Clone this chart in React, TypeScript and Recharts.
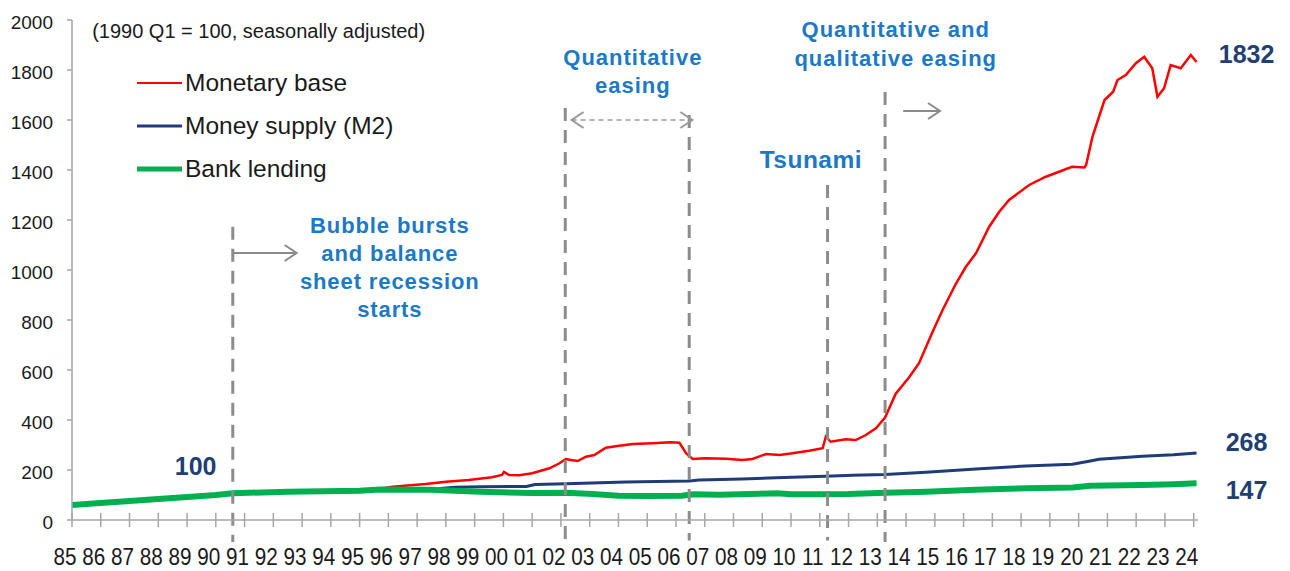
import React from 'react';
import { LineChart, Line, XAxis, YAxis, ReferenceLine, ReferenceDot, Legend } from 'recharts';

const FONT = '"Liberation Sans", Arial, Helvetica, sans-serif';
const NOTE_BLUE = '#1b79c6';
const NAVY = '#213f72';
const GUIDE_GREY = '#8c8c8c';
const AXIS_GREY = '#a6a6a6';

// Axis ticks
const yearLabels = [
  '85', '86', '87', '88', '89', '90', '91', '92', '93', '94',
  '95', '96', '97', '98', '99', '00', '01', '02', '03', '04',
  '05', '06', '07', '08', '09', '10', '11', '12', '13', '14',
  '15', '16', '17', '18', '19', '20', '21', '22', '23', '24',
];
const yearTicks = yearLabels.map((_, i) => 1985 + i);
const valueTicks = [0, 200, 400, 600, 800, 1000, 1200, 1400, 1600, 1800, 2000];

// Monetary base (1990 Q1 = 100)
const baseYears = [
  1985, 1986, 1987, 1988, 1989, 1990, 1990.6, 1992.5, 1995, 1995.7,
  1996.15, 1997.3, 1998.0, 1998.8, 1999.6, 1999.95, 2000.02, 2000.2, 2000.55, 2001.0,
  2001.6, 2001.95, 2002.17, 2002.35, 2002.58, 2002.87, 2003.16, 2003.56, 2004.03, 2004.5,
  2005.2, 2005.8, 2006.12, 2006.35, 2006.58, 2007.0, 2007.75, 2008.3, 2008.66, 2009.13,
  2009.6, 2010.05, 2010.63, 2011.1, 2011.21, 2011.38, 2011.9, 2012.25, 2012.6, 2012.95,
  2013.27, 2013.64, 2014.1, 2014.45, 2014.9, 2015.27, 2015.74, 2016.08, 2016.43, 2016.89,
  2017.24, 2017.58, 2018.28, 2018.86, 2019.32, 2019.77, 2020.2, 2020.26, 2020.48, 2020.9,
  2021.2, 2021.35, 2021.64, 2021.99, 2022.28, 2022.56, 2022.74, 2022.97, 2023.2, 2023.55,
  2023.9, 2024.1,
];
const baseValues = [
  60, 67, 74, 81, 89, 99, 106, 112, 117, 125,
  133, 144, 153, 160, 171, 180, 192, 180, 179, 187,
  207, 227, 244, 240, 236, 253, 260, 289, 297, 304,
  307, 311, 309, 267, 244, 247, 245, 240, 244, 264,
  260, 267, 277, 287, 333, 313, 323, 320, 340, 367,
  410, 505, 570, 627, 747, 840, 947, 1013, 1067, 1173,
  1233, 1280, 1340, 1373, 1393, 1413, 1410, 1420, 1533, 1680,
  1713, 1760, 1780, 1827, 1853, 1807, 1693, 1727, 1820, 1807,
  1860, 1832,
];

// Money supply (M2)
const m2Years = [
  1985, 1990, 1990.6, 1992.5, 1995, 1995.7, 1997.5, 1997.8, 1998.3, 1999.2,
  2000.8, 2001.1, 2002.17, 2004.26, 2006.46, 2006.8, 2008.3, 2009.47, 2011.2, 2012.14,
  2013.27, 2014.69, 2016.43, 2018.16, 2019.78, 2020.36, 2020.71, 2022.21, 2023.3, 2024.1,
];
const m2Values = [
  60, 100, 106, 112, 116, 120, 121, 126, 131, 133,
  134, 142, 145, 152, 156, 160, 164, 169, 175, 179,
  182, 191, 204, 216, 223, 235, 243, 255, 261, 268,
];

// Bank lending
const lendingYears = [
  1985, 1990, 1990.6, 1992.5, 1995, 1995.7, 1997.5, 1998.1, 1999.2, 2001.0,
  2002.17, 2003.1, 2004.0, 2005.0, 2006.2, 2006.6, 2007.5, 2008.9, 2009.5, 2010.0,
  2011.0, 2012.0, 2013.3, 2014.7, 2016.4, 2018.2, 2019.8, 2020.4, 2022.2, 2023.3,
  2024.1,
];
const lendingValues = [
  60, 100, 107, 113, 117, 122, 121, 118, 113, 108,
  109, 104, 97, 96, 97, 103, 101, 105, 107, 103,
  103, 104, 109, 113, 121, 127, 130, 137, 140, 143,
  147,
];

const toPoints = (ts: number[], vs: number[]) => ts.map((t, i) => ({ t, v: vs[i] }));
const basePoints = toPoints(baseYears, baseValues);
const m2Points = toPoints(m2Years, m2Values);
const lendingPoints = toPoints(lendingYears, lendingValues);

const series = [
  { name: 'Monetary base', color: '#ff0000', width: 2.5, legendWidth: 2 },
  { name: 'Money supply (M2)', color: '#1f3c78', width: 3, legendWidth: 3 },
  { name: 'Bank lending', color: '#00b050', width: 6, legendWidth: 5 },
];

const XTick = (props: any) => {
  const { x, y, payload } = props;
  const label = yearLabels[yearTicks.indexOf(payload.value)];
  return (
    <g>
      <line x1={x} x2={x} y1={y - 7} y2={y + 7} stroke={AXIS_GREY} strokeWidth={1.5} />
      <text
        transform={`translate(${x - 7},${y + 45}) scale(0.9,1)`}
        textAnchor="middle"
        fontFamily={FONT}
        fontSize={23}
        fill="#1a1a1a"
      >
        {label}
      </text>
    </g>
  );
};

const YTick = (props: any) => {
  const { x, y, payload } = props;
  return (
    <text x={x - 14} y={y + 8.5} textAnchor="end" fontFamily={FONT} fontSize={19} fill="#1a1a1a">
      {payload.value}
    </text>
  );
};

const LegendBox = () => (
  <div style={{ fontFamily: FONT, fontSize: 24.5, color: '#1a1a1a' }}>
    {series.map((s) => (
      <div key={s.name} style={{ display: 'flex', alignItems: 'center', height: 43 }}>
        <svg width={50} height={10} style={{ display: 'block' }}>
          <line x1={2} x2={47} y1={5} y2={5} stroke={s.color} strokeWidth={s.legendWidth} />
        </svg>
        <span style={{ whiteSpace: 'nowrap' }}>{s.name}</span>
      </div>
    ))}
  </div>
);

// Multi-line note text anchored at a data position (first baseline)
const noteShape = (lines: string[], opts: { size?: number; color?: string; bold?: boolean; anchor?: string; spacing?: number; lineGap?: number }) =>
  (p: any) => (
    <text
      x={p.cx}
      y={p.cy}
      textAnchor={opts.anchor ?? 'middle'}
      fontFamily={FONT}
      fontSize={opts.size ?? 22}
      fontWeight={opts.bold === false ? 'normal' : 'bold'}
      fill={opts.color ?? NOTE_BLUE}
      letterSpacing={opts.spacing ?? 0}
    >
      {lines.map((l, i) => (
        <tspan key={i} x={p.cx} dy={i === 0 ? 0 : opts.lineGap ?? 28}>
          {l}
        </tspan>
      ))}
    </text>
  );

const arrowShape = (both: boolean, dashed: boolean) => (p: any) => {
  const { x1, y1, x2, y2 } = p;
  const head = (tx: number, ty: number, dir: number) =>
    `M${tx - dir * 12},${ty - 8} L${tx},${ty} L${tx - dir * 12},${ty + 8}`;
  const stroke = dashed ? '#9a9a9a' : '#8a8a8a';
  return (
    <g>
      <line
        x1={x1}
        y1={y1}
        x2={x2}
        y2={y2}
        stroke={stroke}
        strokeWidth={dashed ? 1.6 : 2}
        strokeDasharray={dashed ? '5 4' : undefined}
      />
      <path d={head(x2, y2, 1)} fill="none" stroke={stroke} strokeWidth={2} />
      {both && <path d={head(x1, y1, -1)} fill="none" stroke={stroke} strokeWidth={2} />}
    </g>
  );
};

const endShape = (value: number, dx: number, dy: number) => (p: any) => (
  <text x={p.cx + dx} y={p.cy + dy} textAnchor="middle" fontFamily={FONT} fontSize={25} fontWeight="bold" fill={NAVY}>
    {value}
  </text>
);

// Event dividers: [year, top value, bottom value]
const dividers: [number, number, number][] = [
  [1990.59, 1173, -88],
  [2002.15, 1648, -82],
  [2006.46, 1620, -82],
  [2011.27, 1340, -82],
  [2013.27, 1712, -88],
];

const last = (a: number[]) => a[a.length - 1];

export default function App() {
  return (
    <div style={{ position: 'absolute', left: 0, top: 0, background: '#fff' }}>
      <LineChart width={1290} height={571} margin={{ top: 20, right: 92, bottom: 0, left: 0 }}>
        <XAxis
          dataKey="t"
          type="number"
          domain={[1985, 2024.15]}
          ticks={yearTicks}
          interval={0}
          tick={<XTick />}
          tickLine={false}
          tickSize={0}
          tickMargin={0}
          height={51}
          axisLine={{ stroke: AXIS_GREY, strokeWidth: 1.5 }}
          allowDataOverflow
        />
        <YAxis
          type="number"
          domain={[0, 2000]}
          ticks={valueTicks}
          interval={0}
          width={72}
          tick={<YTick />}
          tickSize={5}
          tickMargin={0}
          tickLine={{ stroke: AXIS_GREY, strokeWidth: 1.5 }}
          axisLine={{ stroke: AXIS_GREY, strokeWidth: 1.5 }}
          allowDataOverflow
        />
        <Legend
          layout="vertical"
          align="center"
          verticalAlign="middle"
          wrapperStyle={{ left: 135, top: 61, width: 280 }}
          content={() => <LegendBox />}
        />
        <Line
          data={basePoints}
          dataKey="v"
          name="Monetary base"
          type="linear"
          stroke={series[0].color}
          strokeWidth={series[0].width}
          dot={false}
          isAnimationActive={false}
        />
        <Line
          data={m2Points}
          dataKey="v"
          name="Money supply (M2)"
          type="linear"
          stroke={series[1].color}
          strokeWidth={series[1].width}
          dot={false}
          isAnimationActive={false}
        />
        <Line
          data={lendingPoints}
          dataKey="v"
          name="Bank lending"
          type="linear"
          stroke={series[2].color}
          strokeWidth={series[2].width}
          dot={false}
          isAnimationActive={false}
        />

        {dividers.map(([yr, top, bottom]) => (
          <ReferenceLine
            key={yr}
            segment={[{ x: yr, y: top }, { x: yr, y: bottom }]}
            stroke={GUIDE_GREY}
            strokeWidth={3}
            strokeDasharray="13 9"
            ifOverflow="visible"
          />
        ))}

        {/* arrows */}
        <ReferenceLine
          segment={[{ x: 1990.59, y: 1068 }, { x: 1992.81, y: 1068 }]}
          ifOverflow="visible"
          shape={arrowShape(false, false)}
        />
        <ReferenceLine
          segment={[{ x: 2002.37, y: 1600 }, { x: 2006.57, y: 1600 }]}
          ifOverflow="visible"
          shape={arrowShape(true, true)}
        />
        <ReferenceLine
          segment={[{ x: 2013.9, y: 1636 }, { x: 2015.18, y: 1636 }]}
          ifOverflow="visible"
          shape={arrowShape(false, false)}
        />

        {/* notes */}
        <ReferenceDot
          x={1985.7}
          y={1930}
          r={0}
          ifOverflow="visible"
          shape={noteShape(['(1990 Q1 = 100, seasonally adjusted)'], { size: 20, color: '#1a1a1a', bold: false, anchor: 'start' })}
        />
        <ReferenceDot
          x={1996.05}
          y={1149}
          r={0}
          ifOverflow="visible"
          shape={noteShape(['Bubble bursts', 'and balance', 'sheet recession', 'starts'], { spacing: 0.9, lineGap: 28 })}
        />
        <ReferenceDot
          x={2004.5}
          y={1820}
          r={0}
          ifOverflow="visible"
          shape={noteShape(['Quantitative', 'easing'], { spacing: 1, lineGap: 28 })}
        />
        <ReferenceDot
          x={2013.64}
          y={1932}
          r={0}
          ifOverflow="visible"
          shape={noteShape(['Quantitative and', 'qualitative easing'], { spacing: 1, lineGap: 29 })}
        />
        <ReferenceDot
          x={2010.69}
          y={1407}
          r={0}
          ifOverflow="visible"
          shape={noteShape(['Tsunami'], { size: 24.5, spacing: 0.5 })}
        />
        <ReferenceDot
          x={1989.3}
          y={180}
          r={0}
          ifOverflow="visible"
          shape={noteShape(['100'], { size: 25, color: NAVY })}
        />

        {/* latest values */}
        <ReferenceDot
          x={last(baseYears)}
          y={last(baseValues)}
          r={0}
          ifOverflow="visible"
          shape={endShape(last(baseValues), 50, 1)}
        />
        <ReferenceDot
          x={last(m2Years)}
          y={last(m2Values)}
          r={0}
          ifOverflow="visible"
          shape={endShape(last(m2Values), 50, -2)}
        />
        <ReferenceDot
          x={last(lendingYears)}
          y={last(lendingValues)}
          r={0}
          ifOverflow="visible"
          shape={endShape(last(lendingValues), 50, 16)}
        />
      </LineChart>
    </div>
  );
}
